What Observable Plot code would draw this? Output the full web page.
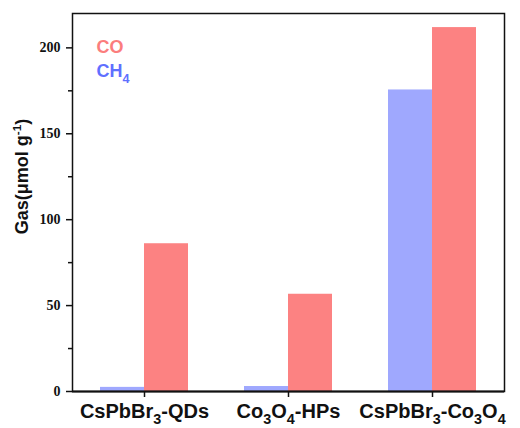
<!DOCTYPE html>
<html>
<head>
<meta charset="utf-8">
<script src="https://cdn.jsdelivr.net/npm/d3@7"></script>
<script src="https://cdn.jsdelivr.net/npm/@observablehq/plot@0.6"></script>
<style>
  html, body { margin: 0; padding: 0; background: #fff; }
  #chart svg { display: block; }
</style>
</head>
<body>
<div id="chart"></div>
<script>
const categories = ["CsPbBr3-QDs", "Co3O4-HPs", "CsPbBr3-Co3O4"];
const ch4Values = [2.4, 2.9, 175.5];
const coValues = [86.0, 56.6, 211.8];
const yTicks = [0, 50, 100, 150, 200];
const yMinorTicks = [25, 75, 125, 175];
const legendLabels = ["CO", "CH4"];
const yLabel = "Gas(μmol g-1)";

const colors = { CH4: "#9fa8fe", CO: "#fc8282" };
const legendColors = { CH4: "#5f70ff", CO: "#fb7d7d" };

const data = categories.map((c, i) => ({ category: c, CH4: ch4Values[i], CO: coValues[i] }));

const sansFont = "'Liberation Sans', Arial, sans-serif";
const serifFont = "'Liberation Serif', 'Times New Roman', serif";

const plot = Plot.plot({
  width: 520,
  height: 428,
  marginLeft: 72,
  marginRight: 16,
  marginTop: 13,
  marginBottom: 37,
  x: { domain: categories, padding: 0 },
  y: { domain: [0, 220] },
  marks: [
    Plot.barY(data, { x: "category", y: "CH4", fill: colors.CH4, insetLeft: 28, insetRight: 72 }),
    Plot.barY(data, { x: "category", y: "CO", fill: colors.CO, insetLeft: 72, insetRight: 28 }),
    Plot.frame({ stroke: "#111", strokeWidth: 1.5 }),
    Plot.ruleY([0], { stroke: "#111", strokeWidth: 2 }),
    Plot.axisY({ ticks: yTicks, tickSize: 6, text: null, label: yLabel, labelAnchor: "center", labelOffset: 57, labelArrow: "none", stroke: "#111", strokeWidth: 1.5, color: "#111" }),
    Plot.axisY({ ticks: yMinorTicks, tickSize: 4, text: null, label: null, stroke: "#111", strokeWidth: 1.5 }),
    Plot.text(yTicks, { y: d => d, text: d => String(d), frameAnchor: "left", dx: -12, textAnchor: "end", lineAnchor: "middle", fill: "#111", fontFamily: serifFont, fontWeight: "bold", fontSize: 14 }),
    Plot.axisX({ tickSize: 6, tickPadding: 6, label: null, stroke: "#111", strokeWidth: 1.5, color: "#111" }),
    Plot.text([legendLabels[0]], { text: d => d, frameAnchor: "top-left", dx: 24, dy: 34, lineAnchor: "middle", textAnchor: "start", fill: legendColors.CO }),
    Plot.text([legendLabels[1]], { text: d => d, frameAnchor: "top-left", dx: 24, dy: 58, lineAnchor: "middle", textAnchor: "start", fill: legendColors.CH4 })
  ]
});

document.getElementById("chart").appendChild(plot);

const svgNS = "http://www.w3.org/2000/svg";

function setFont(el, family, size) {
  el.style.fontFamily = family;
  el.style.fontSize = size + "px";
  el.style.fontWeight = "bold";
}

function scripted(el, parts, fs, ratio) {
  el.textContent = "";
  let pending = 0;
  parts.forEach(p => {
    const t = document.createElementNS(svgNS, "tspan");
    t.textContent = p.t;
    if (p.mode) {
      const shift = p.mode === "sub" ? fs * 0.3 : -fs * 0.38;
      t.style.fontSize = (fs * ratio) + "px";
      t.setAttribute("dy", shift + pending);
      pending = -shift;
    } else if (pending) {
      t.setAttribute("dy", pending);
      pending = 0;
    }
    el.appendChild(t);
  });
}

function subParts(str) {
  return str.split(/(\d+)/).filter(p => p !== "").map(p => ({ t: p, mode: /^\d+$/.test(p) ? "sub" : null }));
}

const yTickStrings = yTicks.map(String);
d3.select(plot).selectAll("text").each(function () {
  const s = this.textContent.trim();
  if (yTickStrings.includes(s)) {
    setFont(this, serifFont, 14);
  } else if (categories.includes(s)) {
    setFont(this, sansFont, 20);
    scripted(this, subParts(s), 20, 0.72);
  } else if (s === legendLabels[0]) {
    setFont(this, sansFont, 18);
  } else if (s === legendLabels[1]) {
    setFont(this, sansFont, 18);
    scripted(this, subParts(s), 18, 0.7);
  } else if (s === yLabel) {
    setFont(this, sansFont, 18);
    this.setAttribute("dx", 26);
    scripted(this, [{ t: "Gas(μmol g", mode: null }, { t: "-1", mode: "sup" }, { t: ")", mode: null }], 18, 0.65);
  }
});
</script>
</body>
</html>
